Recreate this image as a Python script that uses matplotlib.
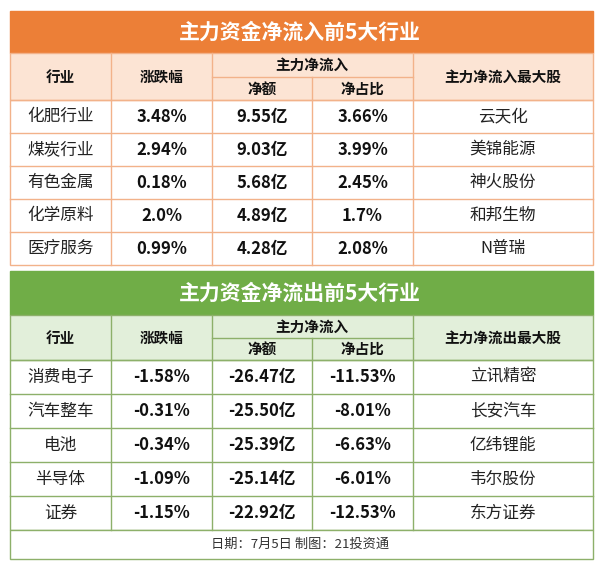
import matplotlib
matplotlib.use("Agg")
import matplotlib.pyplot as plt
from matplotlib.patches import Rectangle

plt.rcParams["font.family"] = "Noto Sans CJK SC"

title_in = "主力资金净流入前5大行业"
title_out = "主力资金净流出前5大行业"
headers_in = ["行业", "涨跌幅", "主力净流入", "净额", "净占比", "主力净流入最大股"]
headers_out = ["行业", "涨跌幅", "主力净流入", "净额", "净占比", "主力净流出最大股"]
in_ind = ["化肥行业", "煤炭行业", "有色金属", "化学原料", "医疗服务"]
in_chg = ["3.48%", "2.94%", "0.18%", "2.0%", "0.99%"]
in_amt = ["9.55亿", "9.03亿", "5.68亿", "4.89亿", "4.28亿"]
in_pct = ["3.66%", "3.99%", "2.45%", "1.7%", "2.08%"]
in_stock = ["云天化", "美锦能源", "神火股份", "和邦生物", "N普瑞"]
out_ind = ["消费电子", "汽车整车", "电池", "半导体", "证券"]
out_chg = ["-1.58%", "-0.31%", "-0.34%", "-1.09%", "-1.15%"]
out_amt = ["-26.47亿", "-25.50亿", "-25.39亿", "-25.14亿", "-22.92亿"]
out_pct = ["-11.53%", "-8.01%", "-6.63%", "-6.01%", "-12.53%"]
out_stock = ["立讯精密", "长安汽车", "亿纬锂能", "韦尔股份", "东方证券"]
footer = "日期：7月5日 制图：21投资通"

fig = plt.figure(figsize=(6, 5.69), dpi=100)
ax = fig.add_axes([0, 0, 1, 1])
ax.set_xlim(0, 600)
ax.set_ylim(569, 0)
ax.axis("off")

cols = [10, 111, 212, 312, 413, 593]
cx = [(cols[i] + cols[i + 1]) / 2 for i in range(5)]
HF = 10.5

def section(y0, ytitle, yhead, ysub, yrows, title, headers, data, dark, light, border):
    ax.add_patch(Rectangle((cols[0], y0), cols[-1] - cols[0], ytitle - y0, fc=dark, ec=dark, lw=1))
    ax.text(300, (y0 + ytitle) / 2, title, ha="center", va="center", color="white",
            fontsize=15, fontweight="bold")
    ax.add_patch(Rectangle((cols[0], ytitle), cols[-1] - cols[0], yhead - ytitle, fc=light, ec=border, lw=1))
    for x in cols[1:-1]:
        if x == 312:
            ax.plot([x, x], [ysub, yrows[-1]], color=border, lw=1)
        else:
            ax.plot([x, x], [ytitle, yrows[-1]], color=border, lw=1)
    ax.plot([cols[2], cols[4]], [ysub, ysub], color=border, lw=1)
    hmid = (ytitle + yhead) / 2
    kw = dict(ha="center", va="center", fontsize=HF, fontweight="bold", color="#111111")
    ax.text(cx[0], hmid, headers[0], **kw)
    ax.text(cx[1], hmid, headers[1], **kw)
    ax.text(312, (ytitle + ysub) / 2, headers[2], **kw)
    ax.text(cx[2], (ysub + yhead) / 2, headers[3], **kw)
    ax.text(cx[3], (ysub + yhead) / 2, headers[4], **kw)
    ax.text(cx[4], hmid, headers[5], **kw)
    ax.add_patch(Rectangle((cols[0], yrows[0]), cols[-1] - cols[0], yrows[-1] - yrows[0], fc="none", ec=border, lw=1))
    for y in yrows[1:-1]:
        ax.plot([cols[0], cols[-1]], [y, y], color=border, lw=1)
    for i in range(5):
        ym = (yrows[i] + yrows[i + 1]) / 2
        ax.text(cx[0], ym, data[0][i], ha="center", va="center", fontsize=12, color="#222222")
        for j in (1, 2, 3):
            ax.text(cx[j], ym, data[j][i], ha="center", va="center", fontsize=12,
                    fontweight="bold", color="#111111")
        ax.text(cx[4], ym, data[4][i], ha="center", va="center", fontsize=12, color="#222222")

section(11, 53, 100, 77, [100, 133, 166, 199, 232, 265], title_in, headers_in,
        [in_ind, in_chg, in_amt, in_pct, in_stock], "#EC7F37", "#FCE4D4", "#F2B28A")
section(271, 315, 360, 338, [360, 394, 428, 462, 496, 530], title_out, headers_out,
        [out_ind, out_chg, out_amt, out_pct, out_stock], "#70AD47", "#E2EFDA", "#8DB06A")
ax.add_patch(Rectangle((cols[0], 530), cols[-1] - cols[0], 29, fc="white", ec="#8DB06A", lw=1))
ax.text(300, 544.5, footer, ha="center", va="center", fontsize=9.5, color="#333333")

fig.savefig("out.png", dpi=100)
